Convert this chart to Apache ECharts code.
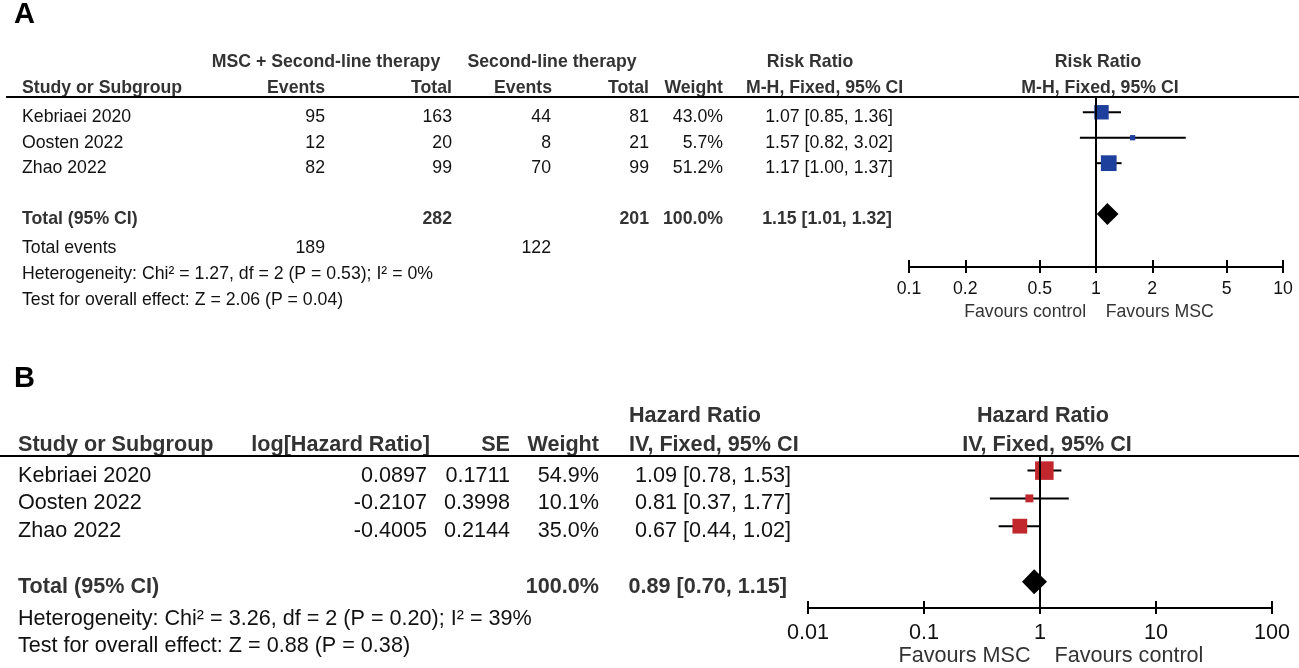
<!DOCTYPE html>
<html>
<head>
<meta charset="utf-8">
<script src="https://cdn.jsdelivr.net/npm/echarts@6/dist/echarts.min.js"></script>
<style>
html,body{margin:0;padding:0;background:#fff;}
#chart{width:1299px;height:668px;}
</style>
</head>
<body>
<div id="chart"></div>
<script>
// ---------- Panel A data ----------
const studiesA = ['Kebriaei 2020', 'Oosten 2022', 'Zhao 2022'];
const mscEventsA = [95, 12, 82];
const mscTotalA = [163, 20, 99];
const ctrlEventsA = [44, 8, 70];
const ctrlTotalA = [81, 21, 99];
const weightA = [43.0, 5.7, 51.2];
const rrA = [1.07, 1.57, 1.17];
const rrLowA = [0.85, 0.82, 1.00];
const rrHighA = [1.36, 3.02, 1.37];
const pooledA = [1.15, 1.01, 1.32];          // estimate, low, high
const groupTotalsA = [282, 201];              // MSC total, control total
const totalEventsA = [189, 122];
const hetA = 'Heterogeneity: Chi² = 1.27, df = 2 (P = 0.53); I² = 0%';
const testA = 'Test for overall effect: Z = 2.06 (P = 0.04)';
const ticksA = [0.1, 0.2, 0.5, 1, 2, 5, 10];

// ---------- Panel B data ----------
const studiesB = ['Kebriaei 2020', 'Oosten 2022', 'Zhao 2022'];
const logHRB = [0.0897, -0.2107, -0.4005];
const seB = [0.1711, 0.3998, 0.2144];
const weightB = [54.9, 10.1, 35.0];
const hrB = [1.09, 0.81, 0.67];
const hrLowB = [0.78, 0.37, 0.44];
const hrHighB = [1.53, 1.77, 1.02];
const pooledB = [0.89, 0.70, 1.15];
const hetB = 'Heterogeneity: Chi² = 3.26, df = 2 (P = 0.20); I² = 39%';
const testB = 'Test for overall effect: Z = 0.88 (P = 0.38)';
const ticksB = [0.01, 0.1, 1, 10, 100];

// ---------- layout / style ----------
const FONT = "'Liberation Sans', Arial, Helvetica, sans-serif";
const FA = 17.7, FB = 21.6;
const BLUE = '#1f3f9c', RED = '#c1272d';
const gridA = {left: 909, width: 374, top: 97, height: 170};
const gridB = {left: 808, width: 464, top: 456, height: 156};

const ci = (e, l, h) => e.toFixed(2) + ' [' + l.toFixed(2) + ', ' + h.toFixed(2) + ']';

function studyRender(color, k) {
  return function (params, api) {
    const row = api.value(3);
    const lo = api.coord([api.value(0), row]);
    const hi = api.coord([api.value(1), row]);
    const es = api.coord([api.value(2), row]);
    const s = k * Math.sqrt(api.value(4));
    return {
      type: 'group',
      children: [
        {type: 'line', shape: {x1: lo[0], y1: lo[1], x2: hi[0], y2: hi[1]}, style: {stroke: '#000', lineWidth: 2}},
        {type: 'rect', shape: {x: es[0] - s / 2, y: es[1] - s / 2, width: s, height: s}, style: {fill: color}}
      ]
    };
  };
}
function diamondRender(half) {
  return function (params, api) {
    const row = api.value(3);
    const lo = api.coord([api.value(1), row]);
    const hi = api.coord([api.value(2), row]);
    const es = api.coord([api.value(0), row]);
    return {
      type: 'polygon',
      shape: {points: [[lo[0], lo[1]], [es[0], es[1] - half], [hi[0], hi[1]], [es[0], es[1] + half]]},
      style: {fill: '#000'}
    };
  };
}

function xAxes(gi, ticks, min, max, fs, name, namePad, gap, margin) {
  return [
    {
      type: 'log', gridIndex: gi, min: min, max: max, position: 'bottom',
      axisLine: {show: true, onZero: false, lineStyle: {color: '#000', width: 2}},
      axisTick: {show: true, inside: false, length: 6, customValues: ticks, lineStyle: {color: '#000', width: 2}},
      axisLabel: {show: true, customValues: ticks, margin: margin, color: '#111', fontSize: fs, fontFamily: FONT,
        formatter: v => String(+(+v).toPrecision(6))},
      splitLine: {show: false}, minorTick: {show: false},
      name: name, nameLocation: 'middle', nameGap: gap,
      nameTextStyle: {fontSize: fs, fontFamily: FONT, color: '#333', padding: namePad}
    },
    {
      type: 'log', gridIndex: gi, min: min, max: max, position: 'bottom',
      axisLine: {show: false, onZero: false},
      axisTick: {show: true, inside: true, length: 7, customValues: ticks, lineStyle: {color: '#000', width: 2}},
      axisLabel: {show: false}, splitLine: {show: false}
    }
  ];
}

const chart = echarts.init(document.getElementById('chart'), null, {renderer: 'canvas'});

const dataA = studiesA.map((s, i) => [rrLowA[i], rrHighA[i], rrA[i], i, weightA[i]]);
const dataB = studiesB.map((s, i) => [hrLowB[i], hrHighB[i], hrB[i], i, weightB[i]]);
const TOTAL_ROW = studiesA.length + 1;

const vline = {
  symbol: 'none', silent: true, animation: false,
  label: {show: false},
  lineStyle: {color: '#000', width: 2, type: 'solid'},
  data: [{xAxis: 1}]
};

chart.setOption({
  animation: false,
  backgroundColor: '#fff',
  grid: [
    Object.assign({containLabel: false}, gridA),
    Object.assign({containLabel: false}, gridB)
  ],
  xAxis: [].concat(
    xAxes(0, ticksA, 0.1, 10, FA, 'Favours control    Favours MSC', [0, 14, 0, 0], 36, 13),
    xAxes(1, ticksB, 0.01, 100, FB, 'Favours MSC    Favours control', [0, 0, 0, 22], 36, 14)
  ),
  yAxis: [
    {type: 'value', gridIndex: 0, inverse: true, min: -0.6, max: 6.08, show: false},
    {type: 'value', gridIndex: 1, inverse: true, min: -0.526, max: 4.95, show: false}
  ],
  series: [
    {type: 'custom', xAxisIndex: 0, yAxisIndex: 0, renderItem: studyRender(BLUE, 2.2),
      encode: {x: [0, 1, 2], y: 3}, data: dataA, markLine: vline, z: 3},
    {type: 'custom', xAxisIndex: 0, yAxisIndex: 0, renderItem: diamondRender(11),
      encode: {x: [0, 1, 2], y: 3}, data: [pooledA.concat([TOTAL_ROW])], z: 4},
    {type: 'custom', xAxisIndex: 2, yAxisIndex: 1, renderItem: studyRender(RED, 2.5),
      encode: {x: [0, 1, 2], y: 3}, data: dataB, markLine: vline, z: 3},
    {type: 'custom', xAxisIndex: 2, yAxisIndex: 1, renderItem: diamondRender(12.5),
      encode: {x: [0, 1, 2], y: 3}, data: [pooledB.concat([TOTAL_ROW])], z: 4}
  ]
});

// ---------- table text, positioned by the chart's y scales ----------
const els = [];
function txt(x, y, s, opt) {
  opt = opt || {};
  els.push({
    type: 'text', x: x, y: y, silent: true, z: 10,
    style: {
      text: String(s), fill: opt.color || (opt.bold ? '#333' : '#111'),
      fontFamily: FONT, fontSize: opt.size, fontWeight: opt.bold ? 'bold' : 'normal',
      textAlign: opt.align || 'left', textVerticalAlign: 'middle'
    }
  });
}
const rowA = r => chart.convertToPixel({yAxisIndex: 0}, r) + 5;
const rowB = r => chart.convertToPixel({yAxisIndex: 1}, r) + 5;

// Panel A
const a = {size: FA};
const aB = {size: FA, bold: true};
txt(14, 15, 'A', {size: 29, bold: true, color: '#000'});
const hA1 = gridA.top - 35, hA2 = gridA.top - 9;
txt(326, hA1, 'MSC + Second-line therapy', Object.assign({align: 'center'}, aB));
txt(552, hA1, 'Second-line therapy', Object.assign({align: 'center'}, aB));
txt(810, hA1, 'Risk Ratio', Object.assign({align: 'center'}, aB));
txt(1098, hA1, 'Risk Ratio', Object.assign({align: 'center'}, aB));
txt(22, hA2, 'Study or Subgroup', aB);
txt(325, hA2, 'Events', Object.assign({align: 'right'}, aB));
txt(452, hA2, 'Total', Object.assign({align: 'right'}, aB));
txt(552, hA2, 'Events', Object.assign({align: 'right'}, aB));
txt(649, hA2, 'Total', Object.assign({align: 'right'}, aB));
txt(723, hA2, 'Weight', Object.assign({align: 'right'}, aB));
txt(746, hA2, 'M-H, Fixed, 95% CI', aB);
txt(1100, hA2, 'M-H, Fixed, 95% CI', Object.assign({align: 'center'}, aB));
studiesA.forEach((s, i) => {
  const y = rowA(i);
  txt(22, y, s, a);
  txt(325, y, mscEventsA[i], Object.assign({align: 'right'}, a));
  txt(452, y, mscTotalA[i], Object.assign({align: 'right'}, a));
  txt(551, y, ctrlEventsA[i], Object.assign({align: 'right'}, a));
  txt(649, y, ctrlTotalA[i], Object.assign({align: 'right'}, a));
  txt(723, y, weightA[i].toFixed(1) + '%', Object.assign({align: 'right'}, a));
  txt(893, y, ci(rrA[i], rrLowA[i], rrHighA[i]), Object.assign({align: 'right'}, a));
});
const tA = rowA(TOTAL_ROW);
txt(22, tA, 'Total (95% CI)', aB);
txt(452, tA, groupTotalsA[0], Object.assign({align: 'right'}, aB));
txt(649, tA, groupTotalsA[1], Object.assign({align: 'right'}, aB));
txt(723, tA, '100.0%', Object.assign({align: 'right'}, aB));
txt(892, tA, ci(pooledA[0], pooledA[1], pooledA[2]), Object.assign({align: 'right'}, aB));
txt(22, tA + 29, 'Total events', a);
txt(325, tA + 29, totalEventsA[0], Object.assign({align: 'right'}, a));
txt(551, tA + 29, totalEventsA[1], Object.assign({align: 'right'}, a));
txt(22, tA + 55, hetA, a);
txt(22, tA + 81, testA, a);
els.push({type: 'line', silent: true, z: 11, shape: {x1: 6, y1: gridA.top, x2: 1299, y2: gridA.top},
  style: {stroke: '#000', lineWidth: 2}});

// Panel B
const b = {size: FB};
const bB = {size: FB, bold: true};
txt(14, 379, 'B', {size: 29, bold: true, color: '#000'});
const hB1 = gridB.top - 40, hB2 = gridB.top - 11;
txt(695, hB1, 'Hazard Ratio', Object.assign({align: 'center'}, bB));
txt(1043, hB1, 'Hazard Ratio', Object.assign({align: 'center'}, bB));
txt(18, hB2, 'Study or Subgroup', bB);
txt(430, hB2, 'log[Hazard Ratio]', Object.assign({align: 'right'}, bB));
txt(510, hB2, 'SE', Object.assign({align: 'right'}, bB));
txt(599, hB2, 'Weight', Object.assign({align: 'right'}, bB));
txt(629, hB2, 'IV, Fixed, 95% CI', bB);
txt(1047, hB2, 'IV, Fixed, 95% CI', Object.assign({align: 'center'}, bB));
studiesB.forEach((s, i) => {
  const y = rowB(i);
  txt(18, y, s, b);
  txt(427, y, logHRB[i].toFixed(4), Object.assign({align: 'right'}, b));
  txt(510, y, seB[i].toFixed(4), Object.assign({align: 'right'}, b));
  txt(599, y, weightB[i].toFixed(1) + '%', Object.assign({align: 'right'}, b));
  txt(791, y, ci(hrB[i], hrLowB[i], hrHighB[i]), Object.assign({align: 'right'}, b));
});
const tB = rowB(TOTAL_ROW);
txt(18, tB, 'Total (95% CI)', bB);
txt(599, tB, '100.0%', Object.assign({align: 'right'}, bB));
txt(787, tB, ci(pooledB[0], pooledB[1], pooledB[2]), Object.assign({align: 'right'}, bB));
txt(18, tB + 32, hetB, b);
txt(18, tB + 59, testB, b);
els.push({type: 'line', silent: true, z: 11, shape: {x1: 0, y1: gridB.top, x2: 1299, y2: gridB.top},
  style: {stroke: '#000', lineWidth: 2}});

chart.setOption({graphic: {elements: els}});
</script>
</body>
</html>
